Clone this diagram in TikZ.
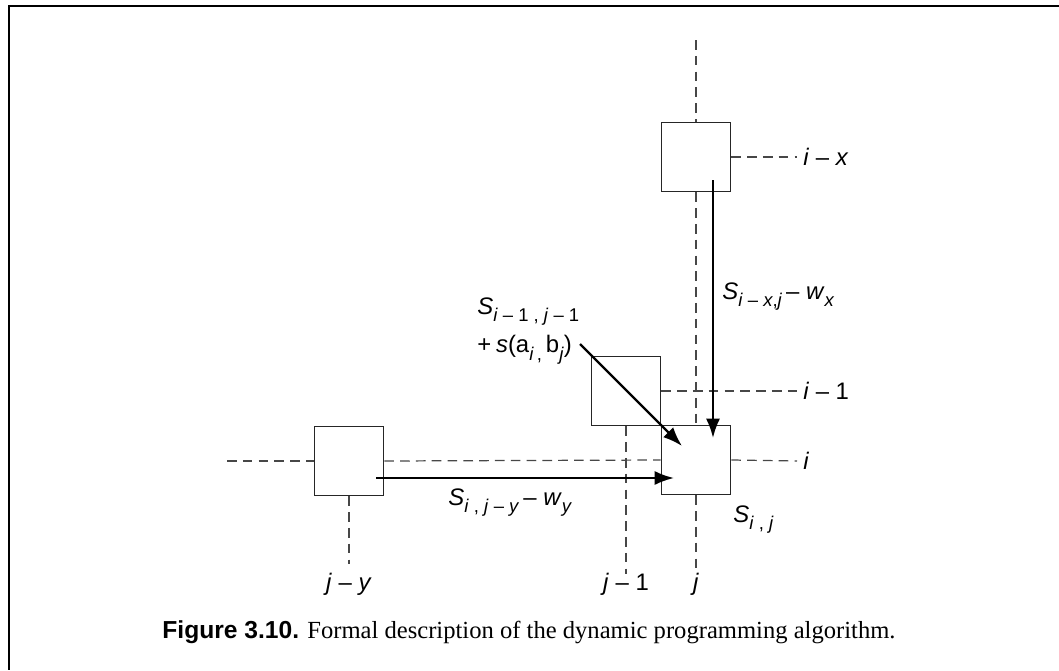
\documentclass[tikz,border=0pt]{standalone}
\usepackage{fontspec}
\setmainfont{Liberation Serif}
\newfontfamily\labfont{Liberation Sans}
\usetikzlibrary{arrows.meta}
\newcommand{\vi}[1]{\textit{#1}}
\newcommand{\lsub}[1]{\raisebox{-0.3em}{\fontsize{10.5}{12}\selectfont #1}}
\tikzset{
  cell/.style={draw=black!85,line width=0.6pt,minimum size=1.39cm,inner sep=0pt},
  grid/.style={draw=black!72,line width=0.7pt,dash pattern=on 5.5pt off 3.5pt},
  move/.style={line width=1.3pt,-{Latex[length=11pt,width=8pt]}},
  lbl/.style={inner sep=0pt,font=\labfont\fontsize{13.6}{16}\selectfont}
}
\begin{document}
\begin{tikzpicture}[x=0.02cm,y=-0.02cm,line cap=butt]
  \useasboundingbox (0,0) rectangle (1059,670);
  \draw[line width=1.1pt] (1059,6) -- (9,6) -- (9,670);
  % cells
  \node[cell] (ix) at (696,157) {};
  \node[cell] (dg) at (626,391) {};
  \node[cell] (ij) at (696,460) {};
  \node[cell] (jy) at (349,461) {};
  % dashed row and column lines
  \coordinate (jtop) at (696,40);
  \coordinate (jbot) at (696,574);
  \coordinate (j1bot) at (626,574);
  \coordinate (jybot) at (349,564);
  \coordinate (ileft) at (227,461);
  \coordinate (iend) at (797,461);
  \coordinate (i1end) at (797,391);
  \coordinate (ixend) at (797,157);
  \draw[grid] (jtop) -- (ix.north);
  \draw[grid] (ix.south) -- (ij.north);
  \draw[grid] (ij.south) -- (jbot);
  \draw[grid] (dg.south) -- (j1bot);
  \draw[grid] (jy.south) -- (jybot);
  \draw[grid] (ileft) -- (jy.west);
  \draw[grid] (jy.east) -- (ij.west);
  \draw[grid] (ij.east) -- (iend);
  \draw[grid] (dg.east) -- (i1end);
  \draw[grid] (ix.east) -- (ixend);
  % labels of rows and columns
  \node[lbl,anchor=west] (lix) at (803,157) {\vi{i} – \vi{x}};
  \node[lbl,anchor=west] (li1) at (803,391) {\vi{i} – 1};
  \node[lbl,anchor=west] (li) at (803,461) {\vi{i}};
  \node[lbl] (lj) at (696,584) {\vi{j}};
  \node[lbl] (lj1) at (626,584) {\vi{j} – 1};
  \node[lbl] (ljy) at (349,584) {\vi{j} – \vi{y}};
  % moves
  \coordinate (xs) at (713,180);
  \coordinate (xe) at (713,438);
  \coordinate (ys) at (376,478);
  \coordinate (ye) at (674,478);
  \coordinate (ds) at (580,344);
  \coordinate (de) at (682,446);
  \draw[move] (xs) -- (xe);
  \draw[move] (ys) -- (ye);
  \draw[move] (ds) -- (de);
  \node[lbl,anchor=north west] (sx) at (722,282)
    {\vi{S}\lsub{\vi{i} – \vi{x},\vi{j}}\,– \vi{w}\lsub{\vi{x}}};
  \node[lbl,anchor=north west] (sy) at (448,488)
    {\vi{S}\lsub{\vi{i} , \vi{j} – \vi{y}}\,– \vi{w}\lsub{\vi{y}}};
  \node[lbl,anchor=north west,align=left] (sd) at (477,297)
    {\vi{S}\lsub{\vi{i} – 1 , \vi{j} – 1}\\[5pt]+\kern0.2em\vi{s}(a\lsub{\vi{i}\,,}\,b\lsub{\vi{j}})};
  \node[lbl,anchor=north west] (sij) at (733,505) {\vi{S}\lsub{\vi{i} , \vi{j}}};
  % caption
  \node[inner sep=0pt,font=\fontsize{14}{16}\selectfont] (cap) at (529,632)
    {{\labfont\bfseries Figure 3.10.} Formal description of the dynamic programming algorithm.};
\end{tikzpicture}
\end{document}
